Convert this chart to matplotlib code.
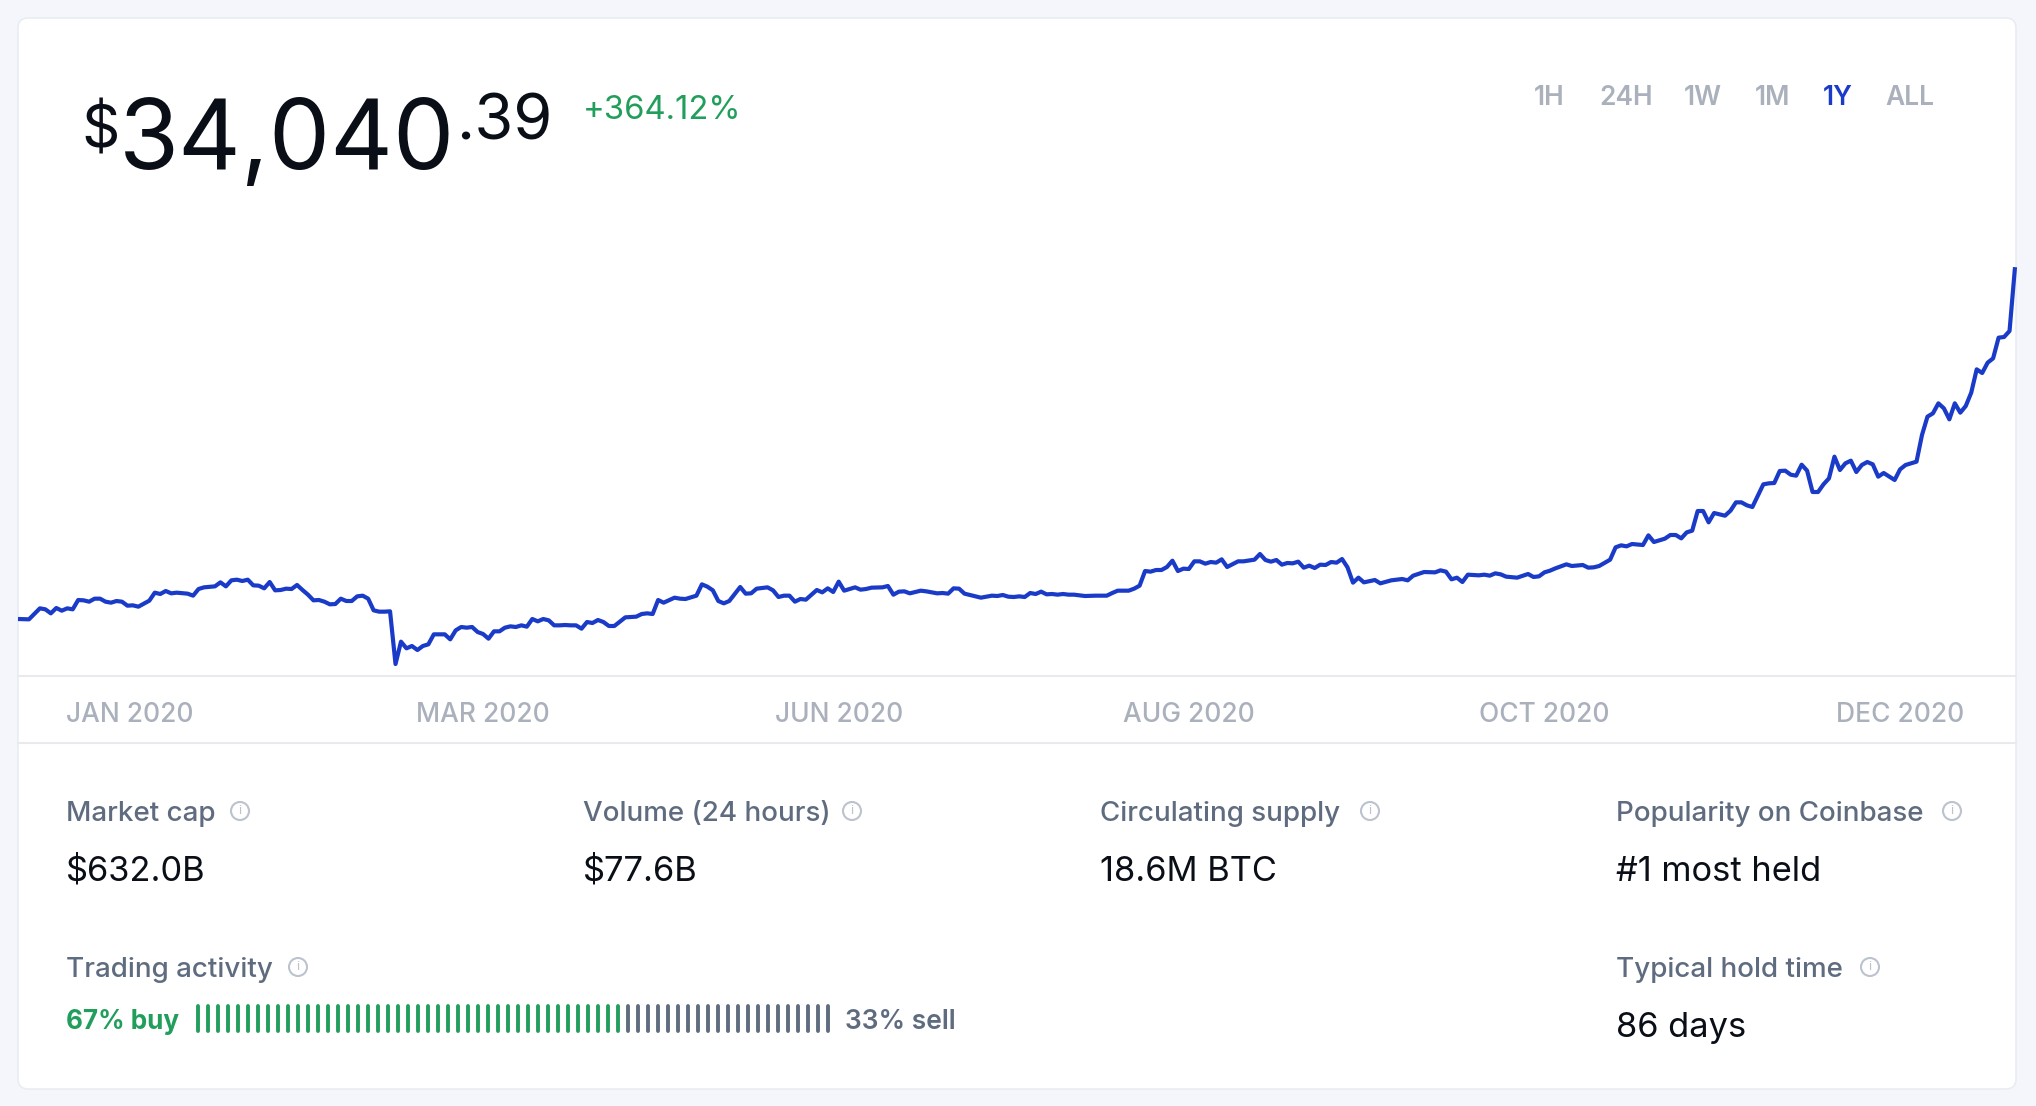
import numpy as np
import matplotlib
matplotlib.use("Agg")
import matplotlib.pyplot as plt
from matplotlib.patches import FancyBboxPatch, Circle

plt.rcParams["font.family"] = ["Inter", "DejaVu Sans"]

# price per day over the year, days without a clear kink are skipped
days = [
    0, 2, 4, 5, 6, 7, 8, 9, 10, 11, 12, 13, 14, 15, 16, 17, 18, 19, 20, 21, 22, 24, 25, 26, 27, 28, 29, 31, 32,
    33, 34, 36, 37, 38, 39, 40, 41, 42, 43, 44, 45, 46, 47, 48, 49, 50, 51, 52, 53, 54, 55, 56, 57, 58, 59, 60,
    61, 62, 63, 64, 65, 66, 67, 68, 69, 70, 71, 72, 73, 74, 75, 76, 77, 78, 79, 80, 81, 82, 83, 84, 85, 86, 87,
    88, 89, 90, 91, 92, 93, 94, 95, 96, 97, 98, 99, 100, 101, 102, 103, 104, 105, 106, 107, 108, 109, 111, 113,
    114, 115, 116, 117, 118, 120,
    121, 122, 124, 125, 126, 127, 128, 129, 130, 132, 133, 134, 135, 137, 138, 139, 140, 141, 142, 143, 144, 146,
    147, 148, 149, 150, 151, 153, 154, 155, 156, 158, 159, 160, 161, 162, 163, 165, 166, 168, 169, 170, 171, 172,
    173, 174, 176, 178, 179, 180, 181, 182, 183, 184, 185, 186, 187, 188, 189, 190, 191, 192, 193, 195, 197, 199,
    200, 201, 203, 204, 205, 206, 207, 208, 209, 210, 211, 212, 213, 214, 215, 216, 217, 218, 219, 220, 221, 223,
    224, 226, 227, 228, 229, 230, 231, 232, 233, 234, 235, 236, 237, 238, 239, 240, 241, 242,
    243, 244, 245, 246, 248, 249, 251, 253, 254, 255, 257, 259, 260, 261, 262, 263, 264, 265, 267, 268, 269, 270,
    271, 272, 274, 276, 277, 278, 279, 280, 281, 283, 284, 286, 287, 288, 289, 291, 292, 293, 294, 295, 297, 298,
    299, 301, 302, 303, 304, 305, 306, 307, 308, 309, 310, 312, 313, 314, 315, 316, 317, 319, 320, 321, 322, 323,
    324, 325, 326, 327, 328, 329, 330, 331, 332, 333, 334, 335, 336, 337, 338, 339, 340, 341, 343, 344, 345, 347,
    348, 349, 350, 351, 352, 353, 354, 355, 356, 357, 358, 359, 360, 361, 362, 363, 364, 365,
]
prices = [
    7336, 7311, 8145, 8070, 7766, 8171, 7968, 8145, 8070, 8778, 8753, 8651, 8879, 8879, 8651, 8576, 8702, 8651,
    8348, 8373, 8272, 8727, 9335, 9234, 9461, 9284, 9335, 9259, 9107, 9613, 9739, 9815, 10119, 9815, 10271, 10321,
    10220, 10321, 9891, 9866, 9664, 10144, 9512, 9537, 9638, 9613, 9917, 9537, 9183, 8753, 8778, 8651, 8449, 8474,
    8879, 8702, 8702, 9056, 9107, 8879, 7994, 7893, 7893, 7918, 3920, 5615, 5110, 5287, 4983, 5287, 5413, 6172,
    6172, 6172, 5793, 6476, 6729, 6678, 6729, 6349, 6197, 5843, 6400, 6400, 6678, 6779, 6729, 6855, 6754, 7336,
    7159, 7336, 7235, 6855, 6855, 6880, 6855, 6855, 6602, 7108, 7032, 7260, 7108, 6805, 6805, 7462, 7513, 7715,
    7766, 7715, 8778, 8576, 8955,
    8879, 8854, 9107, 9967, 9790, 9512, 8702, 8525, 8702, 9765, 9259, 9284, 9638, 9739, 9512, 9006, 9107, 9107,
    8651, 8854, 8803, 9537, 9360, 9664, 9385, 10170, 9486, 9739, 9562, 9613, 9714, 9739, 9841, 9183, 9411, 9436,
    9284, 9486, 9436, 9284, 9309, 9259, 9664, 9638, 9259, 9158, 8955, 9107, 9082, 9158, 9031, 9006, 9056, 9006,
    9309, 9234, 9411, 9208, 9234, 9183, 9234, 9183, 9183, 9082, 9107, 9107, 9309, 9486, 9486, 9638, 9866, 10979,
    10929, 11055, 11055, 11283, 11763, 10979, 11156, 11131, 11713, 11713, 11536, 11662, 11612, 11865, 11283, 11713,
    11713, 11839, 12269, 11814, 11688, 11814, 11460, 11586, 11561, 11688, 11232, 11384, 11207, 11460, 11435, 11662,
    11612, 11890,
    11257, 10094, 10473, 10118, 10296, 10043, 10271, 10372, 10271, 10625, 10903, 10877, 11030, 10929, 10347, 10473,
    10144, 10701, 10650, 10701, 10625, 10802, 10726, 10549, 10473, 10752, 10524, 10575, 10877, 11004, 11181, 11485,
    11359, 11435, 11232, 11257, 11359, 11839, 12775, 12927, 12851, 13028, 12952, 13686, 13180, 13433, 13712, 13712,
    13458, 13914, 14040, 15533, 15533, 14673, 15381, 15178, 15558, 16190, 16190, 15963, 15836, 17557, 17633, 17658,
    18569, 18594, 18291, 18215, 19050, 18594, 16975, 16975, 17557, 18012, 19657, 18645, 19151, 19353, 18493, 19025,
    19252, 19075, 18139, 18417, 17886, 18696, 19025, 19278, 21302, 22693, 22946, 23705, 23325, 22491, 23705, 22997,
    23503, 24515, 26286, 26007, 26792, 27120, 28689, 28740, 29195, 34040,
]

tick_days = [20.5, 85, 150, 214, 279, 344]
tick_labels = ["JAN 2020", "MAR 2020", "JUN 2020", "AUG 2020", "OCT 2020", "DEC 2020"]

ranges = ["1H", "24H", "1W", "1M", "1Y", "ALL"]
active_range = "1Y"

stat_names = ["Market cap", "Volume (24 hours)", "Circulating supply", "Popularity on Coinbase", "Typical hold time"]
stat_values = ["$632.0B", "$77.6B", "18.6M BTC", "#1 most held", "86 days"]

buy_ticks = 43
sell_ticks = 21

BG = "#f4f6fb"
BLUE = "#1a3bc8"
GREEN = "#229e5c"
SLATE = "#5f6c80"
MUTED = "#aab1bc"
HAIR = "#e8eaed"
INK = "#0a0f17"
ICON = "#bcc3ce"

W, H = 2036, 1106
fig = plt.figure(figsize=(W / 100, H / 100), dpi=100, facecolor=BG)

# page furniture is laid out in pixels
page = fig.add_axes([0, 0, 1, 1])
page.set_xlim(0, W)
page.set_ylim(H, 0)
page.axis("off")

page.add_patch(FancyBboxPatch((18, 18), 1998, 1071, boxstyle="round,pad=0,rounding_size=10",
                              fc="white", ec="#e9ecf1", lw=1.2))
page.plot([18, 2016], [743, 743], color=HAIR, lw=1.5)


def label(x, y, s, size, color=INK, weight=400):
    page.text(x, y, s, fontsize=size, color=color, fontweight=weight, va="baseline", ha="left")


def info_icon(x, y):
    page.add_patch(Circle((x, y), 9, fc="none", ec=ICON, lw=1.5))
    page.text(x, y + 0.5, "i", fontsize=9.5, color=ICON, ha="center", va="center")


# headline price
label(81, 148, "$", 43)
label(119, 169, "34,040", 70)
label(456, 139, ".39", 45.5)
label(583, 119, "+364.12%", 23.6, color=GREEN)

range_x = [1534, 1599, 1684, 1755, 1823, 1885]
for x, name in zip(range_x, ranges):
    on = name == active_range
    label(x, 105, name, 19, color=BLUE if on else MUTED, weight=600)

# stats grid
stat_pos = [(66, 821), (583, 821), (1100, 821), (1616, 821), (1616, 977)]
icon_pos = [(240, 811), (852, 811), (1370, 811), (1952, 811), (1870, 967)]
for (x, y), name, value, (ix, iy) in zip(stat_pos, stat_names, stat_values, icon_pos):
    label(x, y, name, 20, color=SLATE, weight=500)
    label(x, y + 60, value, 24.8)
    info_icon(ix, iy)

label(66, 977, "Trading activity", 20, color=SLATE, weight=500)
info_icon(298, 967)
label(66, 1029, "67% buy", 18.8, color=GREEN, weight=700)
label(845, 1029, "33% sell", 19, color=SLATE, weight=600)

n_ticks = buy_ticks + sell_ticks
tick_x = 197.7 + 10 * np.arange(n_ticks)
tick_colors = [GREEN] * buy_ticks + [SLATE] * sell_ticks
page.vlines(tick_x, 1006, 1031, colors=tick_colors, lw=2.8, capstyle="round")

# price line
ax = fig.add_axes([18 / W, 1 - 676 / H, 1997 / W, 476 / H], facecolor="none")
ax.plot(days, prices, color=BLUE, lw=3.0, solid_joinstyle="round", solid_capstyle="butt", clip_on=False)
ax.set_xlim(0, 365)
ax.set_ylim(3010, 39138)
ax.set_yticks([])
ax.set_xticks(tick_days)
ax.set_xticklabels(tick_labels, fontsize=19, color=MUTED, fontweight=500)
ax.tick_params(axis="x", length=0, pad=19)
for side in ["top", "left", "right"]:
    ax.spines[side].set_visible(False)
ax.spines["bottom"].set_color(HAIR)
ax.spines["bottom"].set_linewidth(1.5)

fig.savefig("out.png", dpi=100, facecolor=BG)
